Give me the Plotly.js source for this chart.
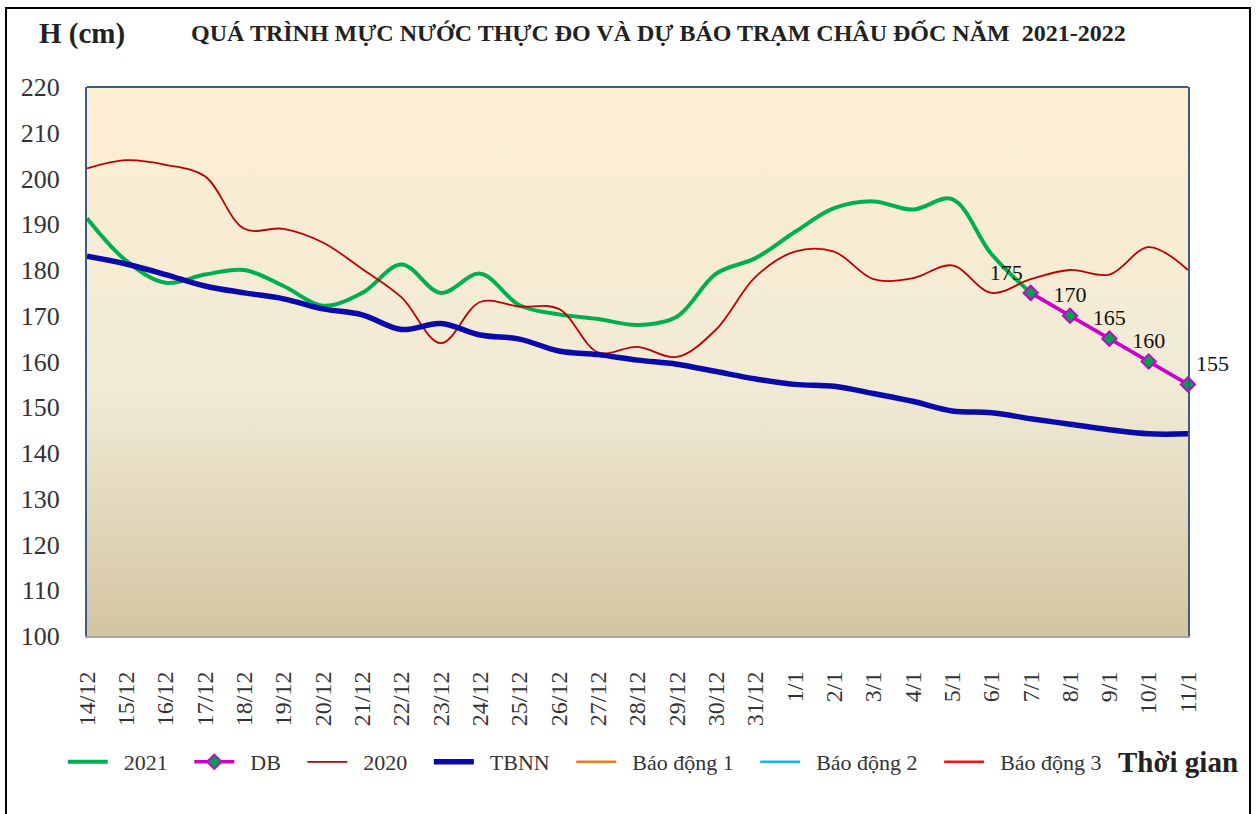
<!DOCTYPE html>
<html>
<head>
<meta charset="utf-8">
<script src="https://cdn.plot.ly/plotly-3.0.1.min.js"></script>
<style>
html,body{margin:0;padding:0;background:#fff;}
#frame{position:absolute;left:5px;top:7px;width:1246px;height:830px;border:2px solid #000;box-sizing:border-box;}
#chart{position:absolute;left:0;top:0;width:1257px;height:814px;}
</style>
</head>
<body>
<div id="frame"></div>
<div id="chart"></div>
<script>
const categories = ['14/12','15/12','16/12','17/12','18/12','19/12','20/12','21/12','22/12','23/12','24/12','25/12','26/12','27/12','28/12','29/12','30/12','31/12','1/1','2/1','3/1','4/1','5/1','6/1','7/1','8/1','9/1','10/1','11/1'];
const s2021 = [191.3,182,177.2,179,180,176.5,172.2,175,181.2,175,179.2,172.3,170.3,169.3,168,169.8,179.2,182.6,188.3,193.5,195,193.2,195.5,183.5,175,null,null,null,null];
const sDB = [null,null,null,null,null,null,null,null,null,null,null,null,null,null,null,null,null,null,null,null,null,null,null,null,175,170,165,160,155];
const s2020 = [202.2,204,203,200.5,189,189,186,180.2,174,164,173,172,171.5,162,163.2,161,167,178.5,184,184,178,178.2,181,175,178,180,179,185,180];
const sTBNN = [183,181.3,179,176.5,175,173.7,171.5,170.2,167,168.3,165.8,164.9,162.3,161.5,160.3,159.4,157.8,156.2,155,154.6,153,151.3,149.2,148.8,147.5,146.3,145.1,144.2,144.2];
const sBD1 = categories.map(() => null);
const sBD2 = categories.map(() => null);
const sBD3 = categories.map(() => null);
const seriesNames = ['2021','DB','2020','TBNN','Báo động 1','Báo động 2','Báo động 3'];
const dbLabels = sDB.map(v => v === null ? '' : String(v));
const dbTextPos = ['top left','top center','top center','top center','top right'];

const serif = '"Liberation Serif", "Times New Roman", serif';
const pad = n => '\u00A0\u00A0' + n + '\u00A0\u00A0\u00A0';

const traces = [
  {name:pad(seriesNames[0]), x:categories, y:s2021, type:'scatter', mode:'lines', line:{color:'#00B050', width:4, shape:'spline', smoothing:1}, connectgaps:false},
  {name:pad(seriesNames[1]), x:categories, y:sDB, type:'scatter', mode:'lines+markers+text', text:dbLabels,
   textposition: sDB.map((v,i)=> v===null ? 'top center' : dbTextPos[i-24]),
   textfont:{family:serif, size:22, color:'#111'},
   line:{color:'#CC00CC', width:3.5}, marker:{symbol:'diamond', size:11, color:'#00A050', line:{color:'#CC00CC', width:2}}, cliponaxis:false},
  {name:pad(seriesNames[2]), x:categories, y:s2020, type:'scatter', mode:'lines', line:{color:'#C00000', width:1.8, shape:'spline', smoothing:1}},
  {name:pad(seriesNames[3]), x:categories, y:sTBNN, type:'scatter', mode:'lines', line:{color:'#0A0AAA', width:5.5, shape:'spline', smoothing:1}},
  {name:pad(seriesNames[4]), x:categories, y:sBD1, type:'scatter', mode:'lines', line:{color:'#F07820', width:2.5}},
  {name:pad(seriesNames[5]), x:categories, y:sBD2, type:'scatter', mode:'lines', line:{color:'#19B4F0', width:2.5}},
  {name:pad(seriesNames[6]), x:categories, y:sBD3, type:'scatter', mode:'lines', line:{color:'#FF1010', width:2.5}}
];

const bgSvg = '<svg xmlns="http://www.w3.org/2000/svg" width="100" height="100" preserveAspectRatio="none"><defs><linearGradient id="g" x1="0" y1="0" x2="0" y2="1"><stop offset="0" stop-color="#FDEFD2"/><stop offset="0.55" stop-color="#F1EAD5"/><stop offset="1" stop-color="#D2C5A1"/></linearGradient></defs><rect width="100" height="100" fill="url(#g)"/></svg>';
const bg = 'data:image/svg+xml;charset=utf-8,' + encodeURIComponent(bgSvg);

const layout = {
  width:1257, height:814,
  margin:{l:87, r:69, t:87, b:178, autoexpand:false},
  paper_bgcolor:'rgba(0,0,0,0)',
  plot_bgcolor:'rgba(0,0,0,0)',
  font:{family:serif, color:'#333'},
  showlegend:true,
  legend:{orientation:'h', x:-0.022, xanchor:'left', y:-0.2295, yanchor:'middle', font:{family:serif, size:22, color:'#333'}, bgcolor:'rgba(0,0,0,0)', itemwidth:40},
  xaxis:{type:'category', range:[0,28], autorange:false, automargin:false, showgrid:false, zeroline:false, showline:true, linecolor:'#A6A6A6', linewidth:2,
         tickangle:-90, ticks:'', ticklabelstandoff:24, tickfont:{family:serif, size:24, color:'#333'}},
  yaxis:{range:[100,220], autorange:false, automargin:false, dtick:10, showgrid:false, zeroline:false, showline:true, mirror:true, linecolor:'#3B5C86', linewidth:2,
         ticks:'', ticklabelstandoff:20, tickfont:{family:serif, size:26, color:'#333'}},
  images:[{source:bg, xref:'paper', yref:'paper', x:0, y:1, sizex:1, sizey:1, sizing:'stretch', xanchor:'left', yanchor:'top', layer:'below'}],
  shapes:[{type:'line', xref:'paper', yref:'paper', x0:0, x1:1, y0:1, y1:1, line:{color:'#3B5C86', width:2}}],
  annotations:[
    {text:'<b>H (cm)</b>', xref:'paper', yref:'paper', x:-0.045, y:1.098, xanchor:'left', yanchor:'middle', showarrow:false, font:{family:serif, size:29, color:'#222'}},
    {text:'<b>QUÁ TRÌNH MỰC NƯỚC THỰC ĐO VÀ DỰ BÁO TRẠM CHÂU ĐỐC NĂM  2021-2022</b>', xref:'paper', yref:'paper', x:0.5195, y:1.098, xanchor:'center', yanchor:'middle', showarrow:false, font:{family:serif, size:24, color:'#222'}},
    {text:'<b>Thời gian</b>', xref:'paper', yref:'paper', x:1.0472, y:-0.2295, xanchor:'right', yanchor:'middle', showarrow:false, font:{family:serif, size:29, color:'#222'}}
  ]
};

Plotly.newPlot('chart', traces, layout, {displayModeBar:false, staticPlot:true});
</script>
</body>
</html>
